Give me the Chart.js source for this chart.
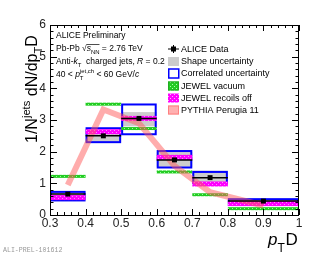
<!DOCTYPE html>
<html>
<head>
<meta charset="utf-8">
<script src="https://cdn.jsdelivr.net/npm/chart.js@4.4.1/dist/chart.umd.min.js"></script>
<style>
  html, body { margin: 0; padding: 0; background: #fff; }
  #wrap { width: 332px; height: 255px; }
</style>
</head>
<body>
<div id="wrap"><canvas id="chart" width="332" height="255"></canvas></div>
<script>
// bins in pT D
const binLo = [0.3, 0.4, 0.5, 0.6, 0.7, 0.8];
const binHi = [0.4, 0.5, 0.6, 0.7, 0.8, 1.0];

// ALICE data + uncertainties
const aliceData = [0.66, 2.5, 3.05, 1.74, 1.18, 0.44];
const shapeLow = [0.55, 2.3, 2.8, 1.52, 0.95, 0.38];
const shapeHigh = [0.72, 2.58, 3.25, 2.0, 1.4, 0.48];
const corrLow = [0.46, 2.3, 2.55, 1.5, 1.0, 0.32];
const corrHigh = [0.73, 2.74, 3.49, 2.02, 1.36, 0.5];

// models
const jewelVacuum = [1.22, 3.5, 2.73, 1.36, 0.64, 0.2];
const jewelRecoilsOff = [0.55, 2.63, 3.05, 1.82, 0.98, 0.36];
const pythiaX = [0.35, 0.45, 0.55, 0.65, 0.75, 0.9];
const pythiaY = [0.95, 3.33, 2.9, 1.55, 0.72, 0.3];

// axis ticks
const xTicks = [0.3, 0.4, 0.5, 0.6, 0.7, 0.8, 0.9, 1.0];
const yTicks = [0, 1, 2, 3, 4, 5, 6];

const FONT = '"Liberation Sans", Arial, sans-serif';
const BLUE = "#0000ff";
const GREY = "#cccccc";
const PINK = "rgba(255, 90, 90, 0.5)";

function makePattern(base, dot) {
  const c = document.createElement("canvas");
  c.width = 4;
  c.height = 4;
  const g = c.getContext("2d");
  g.fillStyle = base;
  g.fillRect(0, 0, 4, 4);
  g.fillStyle = dot;
  g.fillRect(0, 0, 1, 1);
  g.fillRect(2, 2, 1, 1);
  return g.createPattern(c, "repeat");
}

// draws a run of text pieces: n = normal, i = italic, sub / sup = small shifted
function drawRich(ctx, x, y, parts, size) {
  parts.forEach((p) => {
    if (p.s === "subsup") {
      ctx.font = `${size * 0.7}px ${FONT}`;
      ctx.fillText(p.sub, x, y + size * 0.3);
      ctx.fillText(p.sup, x, y - size * 0.45);
      x += Math.max(ctx.measureText(p.sub).width, ctx.measureText(p.sup).width);
      return;
    }
    let dy = 0;
    let f = `${size}px ${FONT}`;
    if (p.s === "i") f = `italic ${size}px ${FONT}`;
    if (p.s === "sub") { f = `${size * 0.7}px ${FONT}`; dy = size * 0.3; }
    if (p.s === "sup") { f = `${size * 0.7}px ${FONT}`; dy = -size * 0.45; }
    ctx.font = f;
    ctx.fillText(p.t, x, y + dy);
    x += ctx.measureText(p.t).width;
  });
  return x;
}

const boxesPlugin = {
  id: "boxes",
  beforeDatasetsDraw(chart) {
    const { ctx, scales: { x: sx, y: sy } } = chart;
    const green = makePattern("#22cc22", "#99ff99");
    const magenta = makePattern("#ff00ff", "#ff88ff");
    ctx.save();
    binLo.forEach((lo, i) => {
      const x0 = sx.getPixelForValue(lo);
      const x1 = sx.getPixelForValue(binHi[i]);
      // shape uncertainty
      ctx.fillStyle = GREY;
      const ys0 = sy.getPixelForValue(shapeHigh[i]);
      const ys1 = sy.getPixelForValue(shapeLow[i]);
      ctx.fillRect(x0, ys0, x1 - x0, ys1 - ys0);
      // correlated uncertainty
      ctx.strokeStyle = BLUE;
      ctx.lineWidth = 2;
      const yc0 = sy.getPixelForValue(corrHigh[i]);
      const yc1 = sy.getPixelForValue(corrLow[i]);
      ctx.strokeRect(x0 + 1, yc0, x1 - x0 - 2, yc1 - yc0);
      // JEWEL
      ctx.fillStyle = magenta;
      ctx.fillRect(x0, sy.getPixelForValue(jewelRecoilsOff[i]) - 2.5, x1 - x0, 5);
      ctx.fillStyle = green;
      ctx.fillRect(x0, sy.getPixelForValue(jewelVacuum[i]) - 1.5, x1 - x0, 3);
    });
    ctx.restore();
  },
  afterDatasetsDraw(chart) {
    const { ctx, scales: { x: sx, y: sy } } = chart;
    ctx.save();
    ctx.strokeStyle = "#000";
    ctx.lineWidth = 1.5;
    binLo.forEach((lo, i) => {
      const y = sy.getPixelForValue(aliceData[i]);
      ctx.beginPath();
      ctx.moveTo(sx.getPixelForValue(lo), y);
      ctx.lineTo(sx.getPixelForValue(binHi[i]), y);
      ctx.stroke();
    });
    ctx.restore();
  },
  afterDraw(chart) {
    const { ctx, chartArea: a, scales: { x: sx, y: sy } } = chart;
    ctx.save();
    // frame + inward ticks
    ctx.strokeStyle = "#000";
    ctx.lineWidth = 1;
    ctx.strokeRect(a.left + 0.5, a.top + 0.5, a.right - a.left - 1, a.bottom - a.top);
    ctx.beginPath();
    for (let k = 0; k <= 35; k++) {
      const x = Math.round(sx.getPixelForValue(0.3 + k * 0.02)) + 0.5;
      const len = k % 5 === 0 ? 6 : 3;
      ctx.moveTo(x, a.bottom); ctx.lineTo(x, a.bottom - len);
      ctx.moveTo(x, a.top); ctx.lineTo(x, a.top + len);
    }
    for (let k = 0; k <= 30; k++) {
      const y = Math.round(sy.getPixelForValue(k * 0.2)) + 0.5;
      const len = k % 5 === 0 ? 7 : 3.5;
      ctx.moveTo(a.left, y); ctx.lineTo(a.left + len, y);
      ctx.moveTo(a.right, y); ctx.lineTo(a.right - len, y);
    }
    ctx.stroke();

    // labels top left
    ctx.fillStyle = "#000";
    ctx.textBaseline = "alphabetic";
    ctx.textAlign = "left";
    const fs = 8.5;
    drawRich(ctx, 56, 38, [{ t: "ALICE Preliminary" }], fs);
    let xe = drawRich(ctx, 56, 51, [{ t: "Pb-Pb " }], fs);
    ctx.font = `${fs}px ${FONT}`;
    ctx.fillText("\u221A", xe, 51);
    const xs = xe + ctx.measureText("\u221A").width;
    const xe2 = drawRich(ctx, xs, 51, [{ t: "s", s: "i" }, { t: "NN", s: "sub" }], fs);
    ctx.beginPath();
    ctx.lineWidth = 0.7;
    ctx.moveTo(xs, 44.5);
    ctx.lineTo(xe2, 44.5);
    ctx.stroke();
    drawRich(ctx, xe2, 51, [{ t: " = 2.76 TeV" }], fs);
    drawRich(ctx, 56, 64, [
      { t: "Anti-" }, { t: "k", s: "i" }, { t: "T", s: "sub" },
      { t: "  charged jets, " }, { t: "R", s: "i" }, { t: " = 0.2" }
    ], fs);
    drawRich(ctx, 56, 77, [
      { t: "40 < " }, { t: "p", s: "i" }, { s: "subsup", sub: "T", sup: "jet,ch" },
      { t: " < 60 GeV/" }, { t: "c", s: "i" }
    ], fs);

    // legend
    const lx = 168;
    const rows = [49, 61.5, 73.5, 86, 98, 110];
    const labels = ["ALICE Data", "Shape uncertainty", "Correlated uncertainty",
      "JEWEL vacuum", "JEWEL recoils off", "PYTHIA Perugia 11"];
    ctx.font = `9px ${FONT}`;
    ctx.textBaseline = "middle";
    labels.forEach((t, i) => ctx.fillText(t, lx + 13, rows[i] + 0.5));
    // markers
    ctx.strokeStyle = "#000";
    ctx.lineWidth = 1;
    ctx.beginPath();
    ctx.moveTo(lx, rows[0]); ctx.lineTo(lx + 11, rows[0]);
    ctx.moveTo(lx + 5.5, rows[0] - 4); ctx.lineTo(lx + 5.5, rows[0] + 4);
    ctx.stroke();
    ctx.fillStyle = "#000";
    ctx.fillRect(lx + 3, rows[0] - 2.5, 5, 5);
    ctx.fillStyle = GREY;
    ctx.fillRect(lx, rows[1] - 4.5, 11, 9);
    ctx.strokeStyle = BLUE;
    ctx.lineWidth = 1.5;
    ctx.strokeRect(lx + 0.75, rows[2] - 4.5, 10, 9);
    ctx.fillStyle = makePattern("#22cc22", "#aaffaa");
    ctx.fillRect(lx, rows[3] - 4.5, 11, 9);
    ctx.strokeStyle = "#22aa22";
    ctx.lineWidth = 1;
    ctx.strokeRect(lx + 0.5, rows[3] - 4, 10, 8);
    ctx.fillStyle = makePattern("#ff00ff", "#ffaaff");
    ctx.fillRect(lx, rows[4] - 4.5, 11, 9);
    ctx.fillStyle = "#ffb0b0";
    ctx.fillRect(lx, rows[5] - 4.5, 11, 9);
    ctx.strokeStyle = "#ff8080";
    ctx.strokeRect(lx + 0.5, rows[5] - 4, 10, 8);

    // y title
    ctx.fillStyle = "#000";
    ctx.textBaseline = "alphabetic";
    ctx.save();
    ctx.translate(37, 143);
    ctx.rotate(-Math.PI / 2);
    drawRich(ctx, 0, 0, [
      { t: "1/N" }, { t: "jets", s: "sup" }, { t: " dN/d" }, { t: "p" },
      { t: "T", s: "sub" }, { t: "D" }
    ], 16);
    ctx.restore();

    // x title
    let xt = drawRich(ctx, 268, 245, [{ t: "p", s: "i" }], 17);
    ctx.font = `12px ${FONT}`;
    ctx.fillText("T", xt, 252);
    ctx.font = `17px ${FONT}`;
    ctx.fillText("D", xt + 8, 245);

    // watermark
    ctx.font = `6.6px "Liberation Mono", monospace`;
    ctx.fillStyle = "#999";
    ctx.fillText("ALI-PREL-101612", 3, 252);
    ctx.restore();
  }
};

new Chart(document.getElementById("chart"), {
  type: "scatter",
  data: {
    datasets: [
      {
        label: "ALICE Data",
        data: binLo.map((lo, i) => ({ x: (lo + binHi[i]) / 2, y: aliceData[i] })),
        pointStyle: "rect",
        pointRadius: 3.5,
        backgroundColor: "#000",
        borderColor: "#000",
        borderWidth: 0,
      },
      {
        label: "PYTHIA Perugia 11",
        data: pythiaX.map((x, i) => ({ x, y: pythiaY[i] })),
        showLine: true,
        borderColor: PINK,
        borderWidth: 6,
        pointRadius: 0,
        tension: 0,
      },
    ],
  },
  options: {
    responsive: false,
    animation: false,
    devicePixelRatio: 1,
    layout: { padding: { top: 25, right: 33, left: 0, bottom: 0 } },
    plugins: { legend: { display: false }, tooltip: { enabled: false } },
    scales: {
      x: {
        type: "linear",
        min: 0.3,
        max: 1,
        afterBuildTicks: (s) => { s.ticks = xTicks.map((v) => ({ value: v })); },
        ticks: {
          callback: (v) => String(Number(v.toFixed(1))),
          font: { family: FONT, size: 12 },
          color: "#222",
          padding: 1,
          maxRotation: 0,
          autoSkip: false,
        },
        grid: { display: false, drawTicks: false },
        border: { display: false },
        afterFit: (s) => { s.height = 40; },
      },
      y: {
        type: "linear",
        min: 0,
        max: 6,
        afterBuildTicks: (s) => { s.ticks = yTicks.map((v) => ({ value: v })); },
        ticks: {
          font: { family: FONT, size: 12 },
          color: "#222",
          padding: 4,
          autoSkip: false,
        },
        grid: { display: false, drawTicks: false },
        border: { display: false },
        afterFit: (s) => { s.width = 50; },
      },
    },
  },
  plugins: [boxesPlugin],
});
</script>
</body>
</html>
